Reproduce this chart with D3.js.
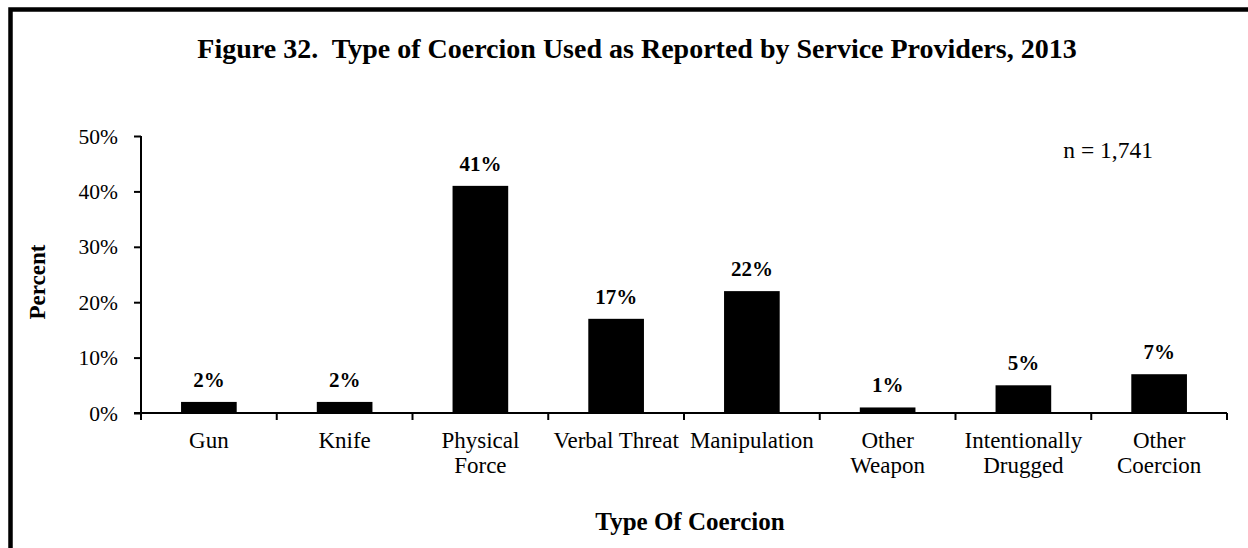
<!DOCTYPE html>
<html>
<head>
<meta charset="utf-8">
<script src="https://cdnjs.cloudflare.com/ajax/libs/d3/7.8.5/d3.min.js"></script>
<style>
  body { margin: 0; background: #fff; }
  svg text { font-family: "Times New Roman", "Liberation Serif", serif; fill: #000; white-space: pre; }
</style>
</head>
<body>
<div id="chart"></div>
<script>
// data
var categories = ["Gun", "Knife", "Physical Force", "Verbal Threat", "Manipulation",
                  "Other Weapon", "Intentionally Drugged", "Other Coercion"];
var labelLines = [["Gun"], ["Knife"], ["Physical", "Force"], ["Verbal Threat"], ["Manipulation"],
                  ["Other", "Weapon"], ["Intentionally", "Drugged"], ["Other", "Coercion"]];
var percents = [2, 2, 41, 17, 22, 1, 5, 7];
var yTicks = [0, 10, 20, 30, 40, 50];

var width = 1248,
    height = 548;

var svg = d3.select("#chart")
    .append("svg")
    .attr("width", width)
    .attr("height", height);

// outer frame (runs off right and bottom)
svg.append("rect")
    .attr("x", 10.5).attr("y", 9.5)
    .attr("width", 1400).attr("height", 700)
    .attr("fill", "none")
    .attr("stroke", "#000")
    .attr("stroke-width", 4.5);

var plotLeft = 141, plotRight = 1227, plotTop = 136, plotBottom = 413;

var x = d3.scaleBand().domain(categories).range([plotLeft, plotRight]).padding(0);
var y = d3.scaleLinear().domain([0, 50]).range([plotBottom, plotTop]);
var barW = x.bandwidth() * 0.41;

svg.append("text")
    .attr("x", 637).attr("y", 58)
    .attr("text-anchor", "middle")
    .style("font-size", "28px").style("font-weight", "bold")
    .text("Figure 32.  Type of Coercion Used as Reported by Service Providers, 2013");

// y axis
var yAxis = svg.append("g")
    .attr("transform", "translate(" + plotLeft + ",0)")
    .call(d3.axisLeft(y).tickValues(yTicks).tickSize(7).tickPadding(16)
        .tickFormat(function(d) { return d + "%"; }));
yAxis.select(".domain").attr("stroke", "#000").attr("stroke-width", 2)
    .attr("d", "M0," + plotTop + "V" + plotBottom);
yAxis.selectAll(".tick line").attr("stroke", "#000").attr("stroke-width", 2);
yAxis.selectAll(".tick text")
    .style("font-size", "21.5px")
    .style("font-family", "'Times New Roman', 'Liberation Serif', serif")
    .attr("dy", "0.33em");

// bars
svg.selectAll("rect.bar")
    .data(percents)
    .enter().append("rect")
    .attr("class", "bar")
    .attr("x", function(d, i) { return x(categories[i]) + (x.bandwidth() - barW) / 2; })
    .attr("y", function(d) { return y(d); })
    .attr("width", barW)
    .attr("height", function(d) { return y(0) - y(d); })
    .attr("fill", "#000");

// value labels
svg.selectAll("text.val")
    .data(percents)
    .enter().append("text")
    .attr("class", "val")
    .attr("x", function(d, i) { return x(categories[i]) + x.bandwidth() / 2; })
    .attr("y", function(d) { return y(d) - 15; })
    .attr("text-anchor", "middle")
    .style("font-size", "21px").style("font-weight", "bold")
    .text(function(d) { return d + "%"; });

// x axis line + boundary ticks
svg.append("line")
    .attr("x1", plotLeft - 7).attr("x2", plotRight)
    .attr("y1", plotBottom).attr("y2", plotBottom)
    .attr("stroke", "#000").attr("stroke-width", 2);

var bounds = categories.map(function(c) { return x(c); }).concat([plotRight]);
svg.selectAll("line.xtick")
    .data(bounds)
    .enter().append("line")
    .attr("class", "xtick")
    .attr("x1", function(d) { return d; }).attr("x2", function(d) { return d; })
    .attr("y1", plotBottom).attr("y2", plotBottom + 7)
    .attr("stroke", "#000").attr("stroke-width", 2);

// category labels
var catText = svg.selectAll("text.cat")
    .data(labelLines)
    .enter().append("text")
    .attr("class", "cat")
    .attr("text-anchor", "middle")
    .style("font-size", "23px");
catText.each(function(lines, i) {
    var t = d3.select(this);
    lines.forEach(function(line, j) {
        t.append("tspan")
            .attr("x", x(categories[i]) + x.bandwidth() / 2)
            .attr("y", 448 + j * 25)
            .text(line);
    });
});

// axis titles
svg.append("text")
    .attr("transform", "translate(45,282) rotate(-90)")
    .attr("text-anchor", "middle")
    .style("font-size", "23px").style("font-weight", "bold")
    .text("Percent");

svg.append("text")
    .attr("x", 690).attr("y", 530)
    .attr("text-anchor", "middle")
    .style("font-size", "25px").style("font-weight", "bold")
    .text("Type Of Coercion");

svg.append("text")
    .attr("x", 1153).attr("y", 158)
    .attr("text-anchor", "end")
    .style("font-size", "23.5px")
    .text("n = 1,741");
</script>
</body>
</html>
